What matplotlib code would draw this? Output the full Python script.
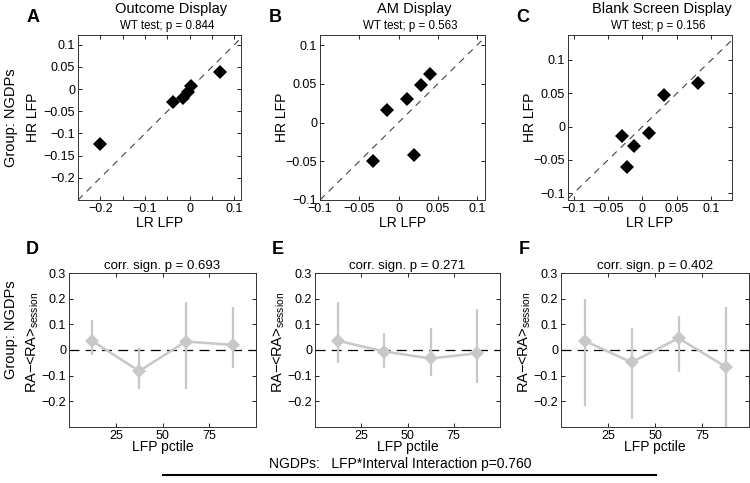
import matplotlib.pyplot as plt

plt.rcParams['font.family'] = ['Liberation Sans', 'DejaVu Sans']
plt.rcParams['mathtext.fontset'] = 'custom'
plt.rcParams['mathtext.rm'] = 'Liberation Sans'

# scatter data: LR LFP (x) vs HR LFP (y)
a_lr = [-0.200, -0.038, -0.014, -0.003, 0.002, 0.069]
a_hr = [-0.123, -0.030, -0.021, -0.006, 0.007, 0.038]
b_lr = [-0.033, -0.015, 0.011, 0.028, 0.040, 0.019]
b_hr = [-0.050, 0.016, 0.030, 0.048, 0.063, -0.042]
c_lr = [-0.029, -0.012, 0.010, -0.023, 0.031, 0.081]
c_hr = [-0.014, -0.029, -0.009, -0.060, 0.048, 0.065]

titles = ["Outcome Display", "AM Display", "Blank Screen Display"]
wt_p = ["0.844", "0.563", "0.156"]

# line data: RA - <RA>session per LFP percentile bin
pctile = [12.5, 37.5, 62.5, 87.5]
d_mean = [0.035, -0.082, 0.033, 0.020]
d_hi = [0.117, 0.007, 0.186, 0.166]
d_lo = [-0.020, -0.153, -0.153, -0.072]
e_mean = [0.036, -0.006, -0.033, -0.013]
e_hi = [0.186, 0.068, 0.085, 0.160]
e_lo = [-0.052, -0.072, -0.100, -0.128]
f_mean = [0.036, -0.048, 0.046, -0.065]
f_hi = [0.200, 0.085, 0.134, 0.166]
f_lo = [-0.218, -0.270, -0.085, -0.330]
corr_p = ["0.693", "0.271", "0.402"]

W, H = 750, 483
fig = plt.figure(figsize=(7.5, 4.83), dpi=100)


def px_axes(x0, x1, y0, y1):
    return fig.add_axes([x0 / W, 1 - y1 / H, (x1 - x0) / W, (y1 - y0) / H])


def matlab_style(ax):
    ax.tick_params(direction='in', top=True, right=True, labelsize=9, length=3,
                   width=0.6, pad=2)
    for s in ax.spines.values():
        s.set_linewidth(0.7)
        s.set_color('#333333')


def fmt(v):
    s = f"{v:g}"
    return s.replace('-', '\u2212')


# top row
top = [
    ((78, 241), (-0.25, 0.115), (-0.25, 0.122), [-0.2, -0.15, -0.1, -0.05, 0, 0.05, 0.1],
     [-0.2, -0.1, 0, 0.1], [-0.2, -0.15, -0.1, -0.05, 0, 0.05, 0.1], a_lr, a_hr, "A", 45),
    ((320, 485), (-0.1, 0.11), (-0.1, 0.113), [-0.1, -0.05, 0, 0.05, 0.1],
     [-0.1, -0.05, 0, 0.05, 0.1], [-0.1, -0.05, 0, 0.05, 0.1], b_lr, b_hr, "B", 38),
    ((568, 732), (-0.108, 0.13), (-0.11, 0.1375), [-0.1, -0.05, 0, 0.05, 0.1],
     [-0.1, -0.05, 0, 0.05, 0.1], [-0.1, -0.05, 0, 0.05, 0.1], c_lr, c_hr, "C", 38),
]
for i, ((x0, x1), xl, yl, xt, xlab, yt, xs, ys, letter, lab_off) in enumerate(top):
    ax = px_axes(x0, x1, 35, 200)
    lo = max(xl[0], yl[0])
    hi = min(xl[1], yl[1])
    ax.plot([lo, hi], [lo, hi], '--', color='#444444', lw=0.8, dashes=(6, 5))
    ax.plot(xs, ys, 'D', color='black', ms=7, mew=0)
    ax.set_xlim(xl)
    ax.set_ylim(yl)
    ax.set_xticks(xt)
    ax.set_xticklabels([fmt(v) if any(abs(v - l) < 1e-9 for l in xlab) else "" for v in xt])
    ax.set_yticks(yt)
    ax.set_yticklabels([fmt(v) for v in yt])
    matlab_style(ax)
    ax.set_xlabel("LR LFP", fontsize=10, labelpad=1)
    ax.set_ylabel("HR LFP", fontsize=10, va='center')
    ax.yaxis.set_label_coords(-lab_off / (x1 - x0), 0.5)
    cx = (x0 + x1) / 2
    fig.text((cx + 12) / W, 1 - 9 / H, titles[i], ha='center', va='center', fontsize=10.5)
    fig.text((cx + 8) / W, 1 - 26 / H, f"WT test; p = {wt_p[i]}", ha='center', va='center',
             fontsize=8.3)
    fig.text((x0 - 45) / W, 1 - 18 / H, letter, ha='center', va='center',
             fontsize=13, fontweight='bold')

# bottom row
bottom = [
    ((69, 256), d_mean, d_lo, d_hi, "D"),
    ((315, 500), e_mean, e_lo, e_hi, "E"),
    ((561, 749), f_mean, f_lo, f_hi, "F"),
]
for i, ((x0, x1), m, lo, hi, letter) in enumerate(bottom):
    ax = px_axes(x0, x1, 273, 427)
    ax.axhline(0, color='black', ls='--', lw=0.9, dashes=(8, 5))
    yerr = [[mm - l for mm, l in zip(m, lo)], [h - mm for mm, h in zip(m, hi)]]
    ax.errorbar(pctile, m, yerr=yerr, color='#c8c8c8', lw=1.8, elinewidth=1.6,
                capsize=1.5, marker='D', ms=7, mew=0)
    ax.set_xlim(0, 100)
    ax.set_ylim(-0.3, 0.3)
    ax.set_xticks([25, 50, 75])
    yt = [-0.2, -0.1, 0, 0.1, 0.2, 0.3]
    ax.set_yticks(yt)
    ax.set_yticklabels([fmt(v) for v in yt])
    matlab_style(ax)
    ax.set_xlabel("LFP pctile", fontsize=10, labelpad=-1)
    ax.set_ylabel(r"RA$-$<RA>$_{\mathrm{session}}$", fontsize=10.5, va='center')
    ax.yaxis.set_label_coords(-36 / (x1 - x0), 0.55)
    ax.set_title(f"corr. sign. p = {corr_p[i]}", fontsize=9.5, pad=3)
    fig.text((x0 - 37) / W, 1 - 249 / H, letter, ha='center', va='center',
             fontsize=13, fontweight='bold')

fig.text(11 / W, 1 - 118 / H, "Group: NGDPs", rotation=90, ha='center', va='center',
         fontsize=10.5)
fig.text(11 / W, 1 - 330 / H, "Group: NGDPs", rotation=90, ha='center', va='center',
         fontsize=10.5)
fig.text(400 / W, 1 - 464 / H, "NGDPs:   LFP*Interval Interaction p=0.760",
         ha='center', va='center', fontsize=10)
fig.add_artist(plt.Line2D([163 / W, 656 / W], [1 - 475 / H, 1 - 475 / H],
                          color='black', lw=1.5, transform=fig.transFigure))

fig.savefig("out.png", dpi=100)
